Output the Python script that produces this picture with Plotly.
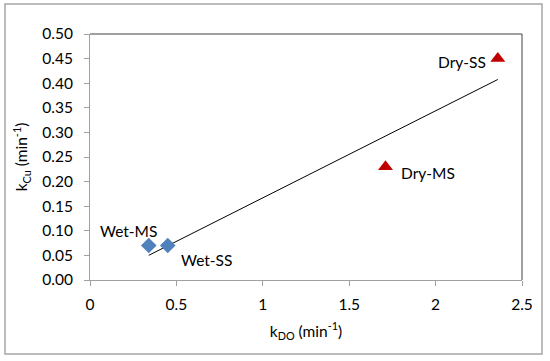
import numpy as np
import plotly.graph_objects as go

# Data
wet_labels = ["Wet-MS", "Wet-SS"]
wet_kdo = [0.34, 0.45]
wet_kcu = [0.07, 0.07]
dry_labels = ["Dry-MS", "Dry-SS"]
dry_kdo = [1.71, 2.36]
dry_kcu = [0.23, 0.45]
x_ticks = [0, 0.5, 1, 1.5, 2, 2.5]
x_ticklabels = ["0", "0.5", "1", "1.5", "2", "2.5"]

all_x = np.array(wet_kdo + dry_kdo)
all_y = np.array(wet_kcu + dry_kcu)
slope, intercept = np.polyfit(all_x, all_y, 1)
tx = np.array([all_x.min(), all_x.max()])
ty = slope * tx + intercept

FONT = "Lato, Calibri, 'Open Sans', sans-serif"
FS = 15.5

fig = go.Figure()
fig.add_trace(go.Scatter(x=tx, y=ty, mode="lines",
                         line=dict(color="black", width=1), showlegend=False,
                         hoverinfo="skip"))
fig.add_trace(go.Scatter(x=wet_kdo, y=wet_kcu, mode="markers",
                         marker=dict(symbol="diamond", size=12, color="#4f81bd"),
                         showlegend=False))
fig.add_trace(go.Scatter(x=dry_kdo, y=dry_kcu, mode="markers",
                         marker=dict(symbol="triangle-up", size=13, color="#c00000"),
                         showlegend=False))

# point labels
label_specs = [
    (wet_kdo[0], wet_kcu[0], wet_labels[0], -20, -15, "center"),
    (wet_kdo[1], wet_kcu[1], wet_labels[1], 11, 14, "left"),
    (dry_kdo[0], dry_kcu[0], dry_labels[0], 14, 6, "left"),
    (dry_kdo[1], dry_kcu[1], dry_labels[1], -10, 3, "right"),
]
for x, y, t, ax, ay, xa in label_specs:
    fig.add_annotation(x=x, y=y, text=t, showarrow=False, xshift=ax, yshift=-ay,
                       xanchor=xa, yanchor="middle",
                       font=dict(family=FONT, size=FS, color="black"))

# plot area top/right border (dark)
fig.add_shape(type="line", xref="paper", yref="paper", x0=0, x1=1, y0=1, y1=1,
              line=dict(color="#404040", width=1))
fig.add_shape(type="line", xref="paper", yref="paper", x0=1, x1=1, y0=0, y1=1,
              line=dict(color="#404040", width=1))
# outer border
fig.add_shape(type="rect", xref="paper", yref="paper",
              x0=(5 - 90) / 432, x1=(542 - 90) / 432,
              y0=(280 - 354) / 246, y1=(280 - 4) / 246,
              line=dict(color="#a6a6a6", width=1.5))

fig.update_layout(
    width=550, height=361,
    margin=dict(l=90, r=28, t=34, b=81),
    plot_bgcolor="white", paper_bgcolor="white",
    font=dict(family=FONT, size=FS, color="black"),
    xaxis=dict(range=[0, 2.5], tickvals=x_ticks, ticktext=x_ticklabels,
               showgrid=False, zeroline=False, showline=True, automargin=False,
               linecolor="#a0a0a0", linewidth=1, ticks="outside", ticklen=5,
               tickcolor="#a0a0a0", tickfont=dict(size=FS), ticklabelstandoff=5,
               title=dict(text="k<sub>DO</sub> (min<sup>-1</sup>)", standoff=14,
                          font=dict(size=FS))),
    yaxis=dict(range=[0, 0.5], dtick=0.05, tickformat=".2f",
               showgrid=False, zeroline=False, showline=True, automargin=False,
               linecolor="#a0a0a0", linewidth=1, ticks="outside", ticklen=5,
               tickcolor="#a0a0a0", tickfont=dict(size=FS), ticklabelstandoff=8,
               title=dict(text="k<sub>Cu</sub> (min<sup>-1</sup>)", standoff=10,
                          font=dict(size=FS))),
)

fig.write_html("out.html", config={"displayModeBar": False},
               post_script="document.body.style.margin='0';document.body.style.overflow='hidden';")
